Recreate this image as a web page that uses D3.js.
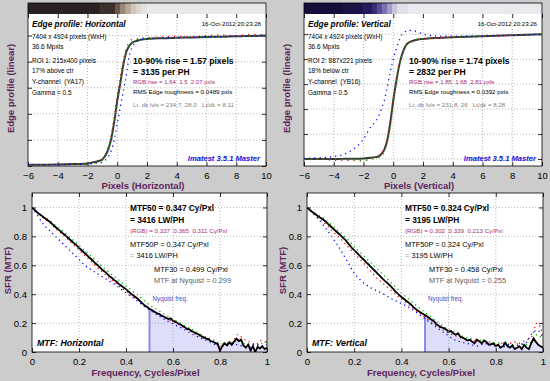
<!DOCTYPE html>
<html>
<head>
<meta charset="utf-8">
<script src="https://cdn.jsdelivr.net/npm/d3@7"></script>
<style>
  html, body { margin: 0; padding: 0; background: #cccccc; }
  svg { display: block; }
  text { white-space: pre; }
</style>
</head>
<body>
<div id="container"></div>
<script>
const FONT = "'Liberation Sans', Arial, Helvetica, sans-serif";
const PURPLE = "#5c1f5c";
const MAGENTA = "#a82878";

// ---- edge profile data (pixels vs normalized level) ----
const edgeX = [-6,-5,-4,-3,-2,-1.5,-1.2,-1,-0.8,-0.6,-0.4,-0.2,0,0.2,0.4,0.6,0.8,1,1.3,1.6,2,3,4,5,6,7,8,9,10];

const edgeH_Y = [0.010,0.010,0.012,0.015,0.020,0.030,0.040,0.050,0.080,0.130,0.210,0.340,0.500,0.630,0.770,0.870,0.920,0.945,0.960,0.968,0.974,0.980,0.983,0.986,0.989,0.992,0.995,0.997,1.000];
const edgeH_R = [0.012,0.008,0.010,0.012,0.018,0.028,0.040,0.055,0.090,0.150,0.240,0.380,0.540,0.680,0.800,0.900,0.950,0.970,0.975,0.980,0.985,0.990,0.995,0.990,1.000,1.005,1.000,1.010,1.005];
const edgeH_G = [0.010,0.010,0.010,0.014,0.018,0.027,0.036,0.045,0.072,0.120,0.200,0.330,0.500,0.640,0.780,0.880,0.930,0.950,0.962,0.970,0.975,0.980,0.984,0.986,0.990,0.992,0.995,0.997,1.000];
const edgeH_B = [0.010,0.010,0.010,0.012,0.015,0.020,0.025,0.030,0.045,0.070,0.120,0.200,0.320,0.450,0.570,0.690,0.840,0.910,0.950,0.970,0.978,0.982,0.985,0.987,0.990,0.992,0.995,0.997,1.000];

const edgeV_Y = [0,0,0,0.002,0.005,0.010,0.015,0.020,0.040,0.075,0.150,0.290,0.470,0.620,0.750,0.840,0.900,0.930,0.945,0.955,0.962,0.970,0.975,0.980,0.984,0.988,0.992,0.996,1.000];
const edgeV_R = [0,0,-0.010,-0.010,-0.015,0,0.010,0.020,0.045,0.085,0.160,0.300,0.480,0.630,0.760,0.850,0.910,0.935,0.950,0.960,0.965,0.972,0.976,0.980,0.985,0.988,0.992,0.996,1.000];
const edgeV_G = [0,0,0,-0.005,-0.010,0,0.005,0.010,0.025,0.055,0.130,0.250,0.420,0.600,0.740,0.840,0.900,0.930,0.950,0.960,0.965,0.972,0.976,0.980,0.984,0.988,0.992,0.996,1.000];
const edgeV_B = [0.005,0.010,0.020,0.055,0.160,0.260,0.300,0.340,0.400,0.470,0.580,0.700,0.800,0.880,0.950,1.000,1.020,1.030,1.030,1.020,1.000,0.985,0.985,0.985,0.985,0.990,0.990,0.995,1.000];

// edge image strip on top of the edge plots (block edges in pixels, colours)
const stripH_X = [-6,-1.15,-0.15,0.2,0.55,0.9,1.25,1.6,2.0];
const stripH_C = ["#2a2222","#3c302c","#6a5548","#9a8878","#b8a898","#d0c6bc","#dcd6d0","#e4e2e0","#e9e9e9"];
const stripV_X = [-6,-3.4,-2.1,-1.4,-1.1,-0.75,-0.4,-0.07,0.27,1.0];
const stripV_C = ["#170d3a","#1d1247","#271a5c","#3a2c78","#5a4c98","#7c70b0","#a49cc8","#c8c4dc","#e0e0ea","#eaeaee"];

// ---- MTF data ----
const mtfX = d3.range(0, 101).map(i => i / 100);
const mtfH_Y = [1.000,0.985,0.970,0.955,0.945,0.930,0.920,0.908,0.895,0.880,
  0.865,0.850,0.838,0.822,0.810,0.795,0.780,0.766,0.750,0.738,
  0.720,0.706,0.690,0.676,0.660,0.645,0.630,0.612,0.600,0.584,
  0.567,0.556,0.540,0.525,0.512,0.497,0.486,0.470,0.458,0.446,
  0.435,0.420,0.405,0.393,0.380,0.368,0.352,0.336,0.322,0.311,
  0.299,0.291,0.281,0.270,0.264,0.253,0.246,0.237,0.228,0.233,
  0.216,0.210,0.199,0.192,0.181,0.172,0.160,0.156,0.144,0.137,
  0.128,0.121,0.110,0.101,0.094,0.089,0.076,0.071,0.063,0.056,
  0.010,0.042,0.060,0.046,0.066,0.050,0.072,0.092,0.076,0.086,
  0.045,0.030,0.052,0.010,0.041,0.000,0.036,0.024,0.041,0.020,
  0.030];
const mtfV_Y = [1.000,0.985,0.972,0.960,0.948,0.935,0.925,0.915,0.900,0.885,
  0.870,0.855,0.840,0.825,0.810,0.795,0.780,0.760,0.740,0.720,
  0.705,0.690,0.672,0.655,0.640,0.622,0.607,0.590,0.573,0.557,
  0.540,0.525,0.508,0.492,0.478,0.462,0.445,0.428,0.410,0.395,
  0.380,0.368,0.355,0.342,0.330,0.312,0.298,0.285,0.275,0.265,
  0.255,0.245,0.232,0.222,0.210,0.190,0.180,0.170,0.165,0.155,
  0.140,0.145,0.130,0.120,0.130,0.105,0.100,0.090,0.080,0.085,
  0.070,0.060,0.085,0.075,0.060,0.080,0.070,0.050,0.055,0.060,
  0.040,0.050,0.030,0.040,0.065,0.040,0.030,0.045,0.020,0.030,
  0.040,0.020,0.050,0.030,0.020,0.060,0.095,0.070,0.050,0.040,
  0.030];

const rgbX = d3.range(0, 41).map(i => i * 0.025);
const mtfH_R = [1,.96,.925,.895,.855,.82,.783,.745,.706,.668,.63,.59,.552,.516,.482,.45,.42,.39,.36,.325,.295,.27,.25,.23,.21,.19,.165,.145,.12,.1,.085,.065,.04,.07,.06,.12,.09,.07,.05,.08,.06];
const mtfH_G = [1,.966,.935,.91,.875,.845,.81,.775,.738,.702,.665,.628,.59,.556,.522,.49,.458,.425,.395,.358,.325,.3,.275,.25,.225,.205,.18,.16,.14,.115,.1,.08,.06,.05,.07,.08,.06,.05,.04,.06,.07];
const mtfH_B = [1,.94,.88,.84,.8,.76,.72,.68,.64,.6,.57,.545,.52,.495,.47,.44,.41,.38,.35,.32,.29,.265,.24,.215,.195,.175,.155,.13,.11,.09,.075,.055,.035,.05,.06,.05,.04,.03,.06,.04,.05];
const mtfV_R = [1,.96,.925,.89,.85,.81,.77,.725,.68,.64,.595,.55,.505,.47,.435,.4,.365,.335,.3,.27,.24,.21,.18,.155,.13,.115,.1,.09,.08,.075,.07,.06,.05,.06,.05,.07,.06,.08,.1,.2,.12];
const mtfV_G = [1,.97,.945,.92,.885,.85,.815,.775,.73,.69,.65,.61,.57,.53,.49,.45,.41,.375,.34,.305,.275,.245,.21,.18,.155,.135,.115,.1,.09,.085,.075,.07,.06,.065,.055,.05,.06,.05,.07,.12,.08];
const mtfV_B = [1,.96,.915,.865,.81,.75,.685,.615,.545,.5,.465,.44,.42,.4,.375,.355,.335,.315,.29,.26,.23,.2,.17,.14,.11,.085,.07,.06,.05,.04,.06,.05,.04,.03,.05,.04,.05,.06,.12,.15,.1];

const edgeTicks = [-6,-4,-2,0,2,4,6,8,10];
const levelTicks = [0,0.2,0.4,0.6,0.8,1.0,1.2];
const freqTicks = [0,0.2,0.4,0.6,0.8,1];
const NYQUIST = 0.5;

const width = 550, height = 381;

let svg = d3.select("#container")
  .append("svg")
  .attr("width", width)
  .attr("height", height)
  .style("font-family", FONT);

svg.append("rect").attr("width", width).attr("height", height).attr("fill", "#cccccc");
let defs = svg.append("defs");

function txt(g, x, y, s, o = {}) {
  return g.append("text")
    .attr("x", x).attr("y", y)
    .attr("font-size", o.size || 6.5)
    .attr("font-weight", o.bold ? "bold" : "normal")
    .attr("font-style", o.italic ? "italic" : "normal")
    .attr("text-anchor", o.anchor || "start")
    .attr("fill", o.color || "black")
    .text(s);
}

function frameAndAxes(g, x, y, p, xt, yt, yTop, xfmt, showY) {
  // grid
  g.append("g").selectAll("line").data(xt.slice(1, -1)).join("line")
    .attr("x1", d => x(d)).attr("x2", d => x(d))
    .attr("y1", yTop).attr("y2", p.y1)
    .attr("stroke", "#9a9a9a").attr("stroke-width", 0.7).attr("stroke-dasharray", "1,2");
  g.append("g").selectAll("line").data(yt.filter(d => y(d) > yTop + 1 && y(d) < p.y1 - 1)).join("line")
    .attr("x1", p.x0).attr("x2", p.x1)
    .attr("y1", d => y(d)).attr("y2", d => y(d))
    .attr("stroke", "#9a9a9a").attr("stroke-width", 0.7).attr("stroke-dasharray", "1,2");

  // ticks (inward on all sides)
  const bx = d3.axisBottom(x).tickValues(xt).tickSize(-4).tickPadding(6).tickFormat(xfmt);
  const gx = g.append("g").attr("transform", `translate(0,${p.y1})`).call(bx);
  const tx = g.append("g").attr("transform", `translate(0,${yTop})`)
    .call(d3.axisTop(x).tickValues(xt).tickSize(-4).tickFormat(""));
  const ly = g.append("g").attr("transform", `translate(${p.x0},0)`)
    .call(d3.axisLeft(y).tickValues(yt.filter(d => y(d) > yTop)).tickSize(-4).tickPadding(5)
      .tickFormat(showY ? (d => d3.format("~g")(d)) : ""));
  const ry = g.append("g").attr("transform", `translate(${p.x1},0)`)
    .call(d3.axisRight(y).tickValues(yt.filter(d => y(d) > yTop)).tickSize(-4).tickFormat(""));
  [gx, tx, ly, ry].forEach(a => {
    a.select(".domain").remove();
    a.selectAll("line").attr("stroke", "black").attr("stroke-width", 0.8);
    a.selectAll("text").attr("font-family", FONT).attr("font-size", 9.5).attr("fill", "black");
  });

  g.append("rect").attr("x", p.x0).attr("y", p.y0)
    .attr("width", p.x1 - p.x0).attr("height", p.y1 - p.y0)
    .attr("fill", "none").attr("stroke", "black").attr("stroke-width", 0.8);
}

function dotted(g, x, y, xs, ys, color, gap) {
  g.append("path")
    .datum(xs.map((d, i) => [d, ys[i]]))
    .attr("d", d3.line().x(d => x(d[0])).y(d => y(d[1])).curve(d3.curveMonotoneX))
    .attr("fill", "none").attr("stroke", color).attr("stroke-width", 1.3)
    .attr("stroke-dasharray", `1.2,${gap}`);
}

function edgePanel(p) {
  const x = d3.scaleLinear().domain([-6, 10]).range([p.x0, p.x1]);
  const y = d3.scaleLinear().domain(p.yDomain).range([p.y1, p.y0]);
  const yTop = p.y0 + 11;
  const g = svg.append("g");
  g.append("rect").attr("x", p.x0).attr("y", p.y0)
    .attr("width", p.x1 - p.x0).attr("height", p.y1 - p.y0).attr("fill", "white");

  // edge strip
  g.append("g").selectAll("rect").data(p.stripX).join("rect")
    .attr("x", d => x(d))
    .attr("width", (d, i) => x(i + 1 < p.stripX.length ? p.stripX[i + 1] : 10) - x(d) + 0.5)
    .attr("y", p.y0).attr("height", 11)
    .attr("fill", (d, i) => p.stripC[i]);

  frameAndAxes(g, x, y, p, edgeTicks, levelTicks, yTop, d3.format("d"), false);

  const clipId = "clip" + p.id;
  defs.append("clipPath").attr("id", clipId).append("rect")
    .attr("x", p.x0).attr("y", yTop).attr("width", p.x1 - p.x0).attr("height", p.y1 - yTop);
  const plot = g.append("g").attr("clip-path", `url(#${clipId})`);

  plot.append("path")
    .datum(edgeX.map((d, i) => [d, p.yv[i]]))
    .attr("d", d3.line().x(d => x(d[0])).y(d => y(d[1])).curve(d3.curveMonotoneX))
    .attr("fill", "none").attr("stroke", "#3c3c3c").attr("stroke-width", 2);
  dotted(plot, x, y, edgeX, p.rv, "#ff0000", 5);
  dotted(plot, x, y, edgeX, p.gv, "#00b000", 5);
  dotted(plot, x, y, edgeX, p.bv, "#0000ff", 4);

  // texts
  const L = p.x0 + 4, T = p.x0 + 105;
  txt(g, L, p.y0 + 24, p.title, { size: 8.3, bold: true, italic: true });
  txt(g, p.x1 - 5, p.y0 + 23, p.date, { size: 6.1, anchor: "end" });
  p.info.forEach((s, i) => txt(g, L, p.y0 + [36, 46, 60, 70, 81, 92][i], s));
  txt(g, T, p.y0 + 61, p.rise1, { size: 8.6, bold: true });
  txt(g, T, p.y0 + 72, p.rise2, { size: 8.6, bold: true });
  txt(g, T, p.y0 + 81, p.rgb, { size: 6, color: MAGENTA });
  txt(g, T, p.y0 + 91, p.rms, { size: 6.2 });
  txt(g, T, p.y0 + 104, p.lvls, { size: 6.2, color: "#808080" });
  txt(g, p.x1 - 6, p.y1 - 5, "Imatest 3.5.1 Master", { size: 7.6, bold: true, italic: true, color: "#1010e0", anchor: "end" });

  txt(g, (p.x0 + p.x1) / 2 - 4, p.y1 + 23, p.xlabel, { size: 9.5, bold: true, color: PURPLE, anchor: "middle" });
  g.append("text")
    .attr("transform", `translate(${p.x0 - 17},${(p.y0 + p.y1) / 2 + 4}) rotate(-90)`)
    .attr("text-anchor", "middle").attr("dy", "0.35em")
    .attr("font-size", 9.5).attr("font-weight", "bold").attr("fill", PURPLE)
    .text("Edge profile (linear)");
}

function mtfPanel(p) {
  const x = d3.scaleLinear().domain([0, 1]).range([p.x0, p.x1]);
  const y = d3.scaleLinear().domain([0, 1.1]).range([p.y1, p.y0]);
  const g = svg.append("g");
  g.append("rect").attr("x", p.x0).attr("y", p.y0)
    .attr("width", p.x1 - p.x0).attr("height", p.y1 - p.y0).attr("fill", "white");

  const clipId = "clip" + p.id;
  defs.append("clipPath").attr("id", clipId).append("rect")
    .attr("x", p.x0).attr("y", p.y0).attr("width", p.x1 - p.x0).attr("height", p.y1 - p.y0);
  const plot = g.append("g").attr("clip-path", `url(#${clipId})`);

  // area beyond Nyquist
  const beyond = mtfX.map((d, i) => [d, p.yv[i]]).filter(d => d[0] >= NYQUIST - 1e-9);
  plot.append("path").datum(beyond)
    .attr("d", d3.area().x(d => x(d[0])).y0(y(0)).y1(d => y(d[1])))
    .attr("fill", "#dedefa");

  frameAndAxes(g, x, y, p, freqTicks, [0, 0.2, 0.4, 0.6, 0.8, 1], p.y0, d3.format("~g"), true);

  const nyqVal = p.yv[mtfX.findIndex(d => Math.abs(d - NYQUIST) < 1e-9)];
  plot.append("line")
    .attr("x1", x(NYQUIST)).attr("x2", x(NYQUIST))
    .attr("y1", y(0)).attr("y2", y(nyqVal))
    .attr("stroke", "#8c8ce6").attr("stroke-width", 2);

  dotted(plot, x, y, rgbX, p.rv, "#ff0000", 3.5);
  dotted(plot, x, y, rgbX, p.gv, "#00b000", 3.5);
  dotted(plot, x, y, rgbX, p.bv, "#0000ff", 3.5);
  plot.append("path")
    .datum(mtfX.map((d, i) => [d, p.yv[i]]))
    .attr("d", d3.line().x(d => x(d[0])).y(d => y(d[1])))
    .attr("fill", "none").attr("stroke", "black").attr("stroke-width", 1.8);

  const T = p.x0 + 98, T2 = p.x0 + 122;
  txt(g, T, p.y0 + 18, p.m50a, { size: 8.3, bold: true });
  txt(g, T, p.y0 + 30, p.m50b, { size: 8.3, bold: true });
  txt(g, T, p.y0 + 40, p.rgb, { size: 6.2, color: MAGENTA });
  txt(g, T, p.y0 + 54, p.m50p, { size: 7.4 });
  const t = txt(g, T, p.y0 + 65, "", { size: 7.4 });
  t.append("tspan").attr("fill", "#a0a0a0").text("= ");
  t.append("tspan").text(p.m50pb);
  txt(g, T2, p.y0 + 79, p.m30, { size: 7.4 });
  txt(g, T2, p.y0 + 90, p.nyq, { size: 7.4, color: "#606060" });
  txt(g, x(NYQUIST) + 3, p.y0 + 108, "Nyquist freq.", { size: 6.3, color: "#4a4ac0" });
  txt(g, p.x0 + 5, p.y1 - 6, p.title, { size: 8.8, bold: true, italic: true });

  txt(g, (p.x0 + p.x1) / 2 - 4, p.y1 + 24, "Frequency, Cycles/Pixel", { size: 9.5, bold: true, color: PURPLE, anchor: "middle" });
  g.append("text")
    .attr("transform", `translate(${p.x0 - 24},${(p.y0 + p.y1) / 2 - 2}) rotate(-90)`)
    .attr("text-anchor", "middle").attr("dy", "0.35em")
    .attr("font-size", 9.5).attr("font-weight", "bold").attr("fill", PURPLE)
    .text("SFR (MTF)");
}

edgePanel({
  id: "eh", x0: 28, x1: 266, y0: 3, y1: 166, yDomain: [0, 1.25],
  stripX: stripH_X, stripC: stripH_C,
  yv: edgeH_Y, rv: edgeH_R, gv: edgeH_G, bv: edgeH_B,
  title: "Edge profile: Horizontal", date: "16-Oct-2012 20:23:28",
  info: ["7404 x 4924 pixels (WxH)", "36.6 Mpxls", "ROI 1: 215x400 pixels", "17% above ctr", "Y-channel  (YA17)", "Gamma = 0.5"],
  rise1: "10-90% rise = 1.57 pixels", rise2: "= 3135 per PH",
  rgb: "RGB rise = 1.64  1.5  2.07 pxls", rms: "RMS Edge roughness = 0.0489 pxls",
  lvls: "Lt, dk lvls = 234.7, 28.0   Lt/dk = 8.11",
  xlabel: "Pixels (Horizontal)"
});

edgePanel({
  id: "ev", x0: 304, x1: 542, y0: 3, y1: 166, yDomain: [-0.056, 1.25],
  stripX: stripV_X, stripC: stripV_C,
  yv: edgeV_Y, rv: edgeV_R, gv: edgeV_G, bv: edgeV_B,
  title: "Edge profile: Vertical", date: "16-Oct-2012 20:23:26",
  info: ["7404 x 4924 pixels (WxH)", "36.6 Mpxls", "ROI 2: 887x221 pixels", "18% below ctr", "Y-channel  (YB16)", "Gamma = 0.5"],
  rise1: "10-90% rise = 1.74 pixels", rise2: "= 2832 per PH",
  rgb: "RGB rise = 1.85  1.68  2.81 pxls", rms: "RMS Edge roughness = 0.0392 pxls",
  lvls: "Lt, dk lvls = 231.8, 26   Lt/dk = 8.28",
  xlabel: "Pixels (Vertical)"
});

mtfPanel({
  id: "mh", x0: 32, x1: 267, y0: 193, y1: 352,
  yv: mtfH_Y, rv: mtfH_R, gv: mtfH_G, bv: mtfH_B,
  m50a: "MTF50 = 0.347 Cy/Pxl", m50b: "= 3416 LW/PH",
  rgb: "(RGB) = 0.337  0.365  0.311 Cy/Pxl",
  m50p: "MTF50P = 0.347 Cy/Pxl", m50pb: "3416 LW/PH",
  m30: "MTF30 = 0.499 Cy/Pxl", nyq: "MTF at Nyquist = 0.299",
  title: "MTF: Horizontal"
});

mtfPanel({
  id: "mv", x0: 307, x1: 543, y0: 193, y1: 352,
  yv: mtfV_Y, rv: mtfV_R, gv: mtfV_G, bv: mtfV_B,
  m50a: "MTF50 = 0.324 Cy/Pxl", m50b: "= 3195 LW/PH",
  rgb: "(RGB) = 0.302  0.339  0.213 Cy/Pxl",
  m50p: "MTF50P = 0.324 Cy/Pxl", m50pb: "3195 LW/PH",
  m30: "MTF30 = 0.458 Cy/Pxl", nyq: "MTF at Nyquist = 0.255",
  title: "MTF: Vertical"
});
</script>
</body>
</html>
